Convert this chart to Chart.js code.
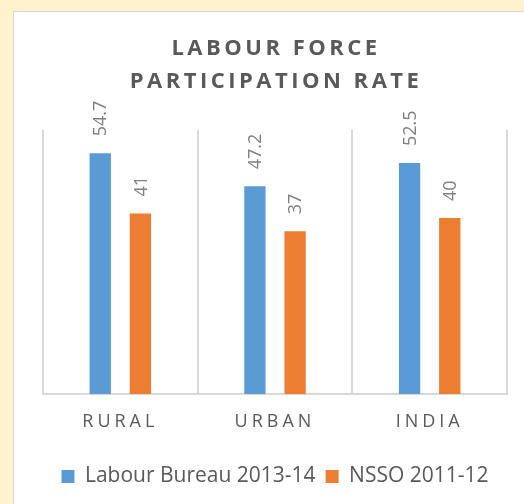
<!DOCTYPE html>
<html>
<head>
<meta charset="utf-8">
<script src="https://cdn.jsdelivr.net/npm/chart.js@4.4.1/dist/chart.umd.min.js"></script>
<style>
  html, body { margin: 0; padding: 0; overflow: hidden; }
  body { background: #FFF2CC; width: 524px; height: 504px; position: relative; }
  #panel { position: absolute; left: 13px; top: 11px; width: 600px; height: 600px;
           background: #fff; border: 1px solid #d9d9d9; }
  #myChart { position: absolute; left: 0; top: 0; }
</style>
</head>
<body>
<div id="panel"></div>
<canvas id="myChart" width="524" height="504"></canvas>
<script>
   // values
   const categories = ['RURAL', 'URBAN', 'INDIA'];
   const labourBureau = [54.7, 47.2, 52.5];
   const nsso = [41, 37, 40];
   const seriesNames = ['Labour Bureau 2013-14', 'NSSO 2011-12'];
   const titleLines = ['LABOUR FORCE', 'PARTICIPATION RATE'];

   Chart.defaults.font.family = "'Open Sans'";
   Chart.defaults.color = '#595959';

   // value labels, turned on their side above each bar
   const barLabels = {
      id: 'barLabels',
      afterDatasetsDraw(chart) {
         const ctx = chart.ctx;
         ctx.save();
         ctx.letterSpacing = '0px';
         ctx.font = "18px 'Open Sans'";
         ctx.fillStyle = '#808080';
         ctx.textAlign = 'left';
         ctx.textBaseline = 'middle';
         chart.data.datasets.forEach((ds, di) => {
            chart.getDatasetMeta(di).data.forEach((bar, i) => {
               ctx.save();
               ctx.translate(bar.x + 1, bar.y - 17);
               ctx.rotate(-Math.PI / 2);
               ctx.fillText(String(ds.data[i]), 0, 0);
               ctx.restore();
            });
         });
         ctx.restore();
         // x labels are drawn after this (ticks z = 1) -> spaced letters
         ctx.letterSpacing = '4px';
      },
      afterDraw(chart) {
         const ctx = chart.ctx;
         ctx.letterSpacing = '0px';
         ctx.save();
         ctx.letterSpacing = '3.5px';
         ctx.font = "bold 22px 'Open Sans'";
         ctx.fillStyle = '#595959';
         ctx.textAlign = 'center';
         ctx.textBaseline = 'middle';
         const cx = (chart.chartArea.left + chart.chartArea.right) / 2 + 1;
         ctx.fillText(titleLines[0], cx, 49);
         ctx.fillText(titleLines[1], cx, 82);
         ctx.restore();
      }
   };

   new Chart(document.getElementById('myChart'), {
      type: 'bar',
      data: {
         labels: categories,
         datasets: [
            { label: seriesNames[0], data: labourBureau, backgroundColor: '#5B9BD5',
              categoryPercentage: 0.52, barPercentage: 0.53 },
            { label: seriesNames[1], data: nsso, backgroundColor: '#ED7D31',
              categoryPercentage: 0.52, barPercentage: 0.53 }
         ]
      },
      options: {
         responsive: false,
         animation: false,
         devicePixelRatio: 1,
         layout: { padding: { left: 43, right: 17, top: 130, bottom: 7 } },
         plugins: {
            title: { display: false },
            tooltip: { enabled: false },
            legend: {
               position: 'bottom',
               labels: {
                  boxWidth: 13,
                  boxHeight: 13,
                  padding: 10,
                  color: '#595959',
                  font: { size: 21 }
               }
            }
         },
         scales: {
            x: {
               grid: { color: '#d9d9d9', lineWidth: 2, drawTicks: false },
               border: { color: '#d9d9d9', width: 2 },
               ticks: { color: '#595959', font: { size: 18 }, padding: 17, z: 1,
                        maxRotation: 0, autoSkip: false },
               afterFit(scale) { scale.height = 62; }
            },
            y: {
               display: false,
               min: 0,
               max: 60
            }
         }
      },
      plugins: [barLabels]
   });
</script>
</body>
</html>
